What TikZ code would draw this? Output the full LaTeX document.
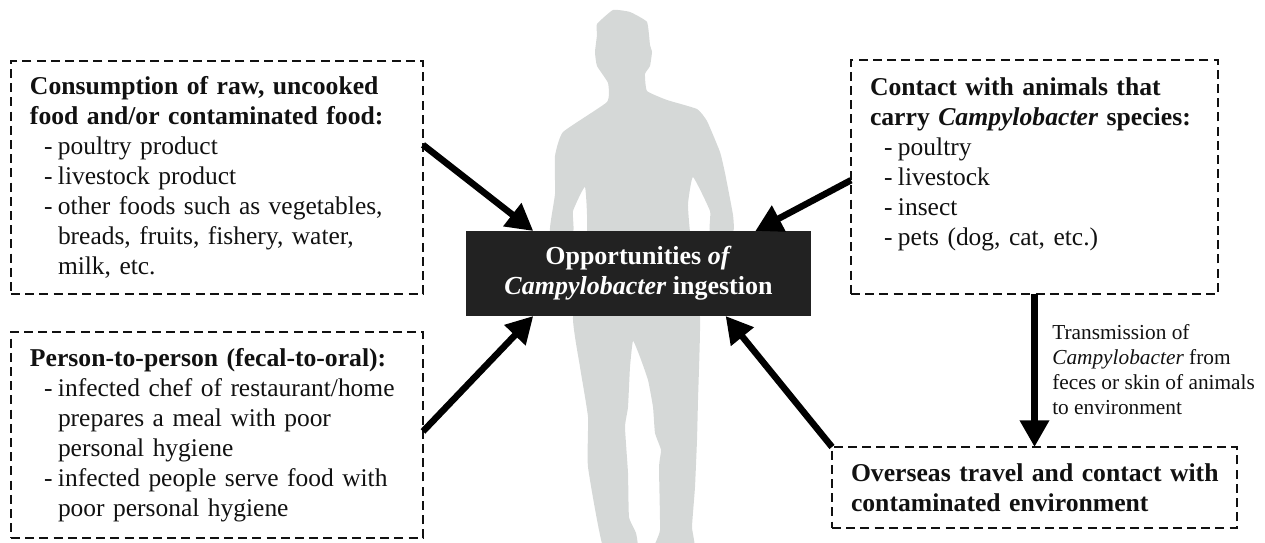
\documentclass[tikz,border=0pt]{standalone}
\usepackage{fontspec}
\setmainfont{Liberation Serif}
\usetikzlibrary{arrows.meta}
\definecolor{inkc}{HTML}{111111}
\definecolor{silc}{HTML}{D5D8D7}
\definecolor{boxc}{HTML}{222222}
\newcommand{\dashitem}[1]{\hspace*{10.5pt}\makebox[10.5pt][l]{-}#1}
\newcommand{\contline}[1]{\hspace*{21pt}#1}
\newcommand{\headline}[1]{\mbox{\fontsize{19.25}{22.5}\selectfont\bfseries #1}}
\tikzset{
  dashbox/.style={draw=inkc, line width=1.5pt, dash pattern=on 6.75pt off 3.9pt, fill=none,
    text=inkc, align=left, inner xsep=14.25pt, inner ysep=0pt, outer sep=0pt, anchor=center,
    font=\fontsize{19.1}{22.5}\selectfont},
  centerbox/.style={fill=boxc, text=white, align=center, inner sep=0pt, outer sep=0pt,
    minimum width=258.75pt, minimum height=63.75pt,
    font=\fontsize{19.5}{22.5}\selectfont\bfseries},
  notetext/.style={text=inkc, align=left, anchor=west, inner sep=0pt,
    font=\fontsize{16}{18.75}\selectfont},
  bigarrow/.style={draw=black, line width=4.9pt, -{Triangle[length=20pt,width=21pt]}},
  silhouette/.style={fill=silc, draw=none}
}
\begin{document}
\begin{tikzpicture}[x=0.75pt,y=-0.75pt]
\useasboundingbox (0,0) rectangle (1265,543);
\clip (0,0) rectangle (1265,543);
% silhouette
\fill[silhouette] plot[smooth cycle, tension=0.25] coordinates {
 (613,10) (630,12) (647,22) (650,45) (652,52) (650,66) (645,74) (647,91)
 (667,100) (697,109) (707,121) (720,152) (725,173) (733,215) (733,232)
 (710,232) (710,211) (693,177) (688,204) (690,232) (700,317)
 (698,400) (697,440) (695,487) (692,527) (694,550)
 (654,550) (660,530) (659,467) (661,450) (655,433) (653,407) (648,380) (640,357) (633,341)
 (630,367) (628,407) (625,427) (628,473) (629,517) (636,533) (637,550)
 (604,550) (588,467) (588,417) (580,367) (573,317)
 (587,232) (585,187) (573,211) (573,232) (550,232)
 (555,194) (555,156) (563,132) (607,102) (608,83) (597,66) (595,52) (597,35) (597,24)
};
% boxes
\node[dashbox, text width=280.5pt, minimum width=309pt, minimum height=174.75pt] (food) at (217,177.5) {%
  \headline{Consumption of raw, uncooked}\\
  \headline{food and/or contaminated food:}\\
  \dashitem{poultry product}\\
  \dashitem{livestock product}\\
  \dashitem{other foods such as vegetables,}\\
  \contline{breads, fruits, fishery, water,}\\
  \contline{milk, etc.}};
\node[dashbox, text width=280.5pt, minimum width=309pt, minimum height=154.5pt] (person) at (217,435) {%
  \headline{Person-to-person (fecal-to-oral):}\\
  \dashitem{infected chef of restaurant/home}\\
  \contline{prepares a meal with poor}\\
  \contline{personal hygiene}\\
  \dashitem{infected people serve food with}\\
  \contline{poor personal hygiene}};
\node[dashbox, text width=246.75pt, minimum width=275.25pt, minimum height=175.5pt] (animal) at (1034.5,177) {%
  \headline{Contact with animals that}\\
  \headline{carry \textit{Campylobacter} species:}\\
  \dashitem{poultry}\\
  \dashitem{livestock}\\
  \dashitem{insect}\\
  \dashitem{pets (dog, cat, etc.)}\\
  ~};
\node[dashbox, text width=275.25pt, minimum width=303.75pt, minimum height=60.75pt] (travel) at (1034.5,487.5) {%
  \headline{Overseas travel and contact with}\\
  \headline{contaminated environment}};
\node[centerbox] (opp) at (638.5,273.5) {Opportunities \textit{of}\\\textit{Campylobacter} ingestion};
\node[notetext] (note) at (1052,369.5) {Transmission of\\\textit{Campylobacter} from\\feces or skin of animals\\to environment};
% connectors
\draw[bigarrow] (food.9) -- (opp.158.8);
\draw[bigarrow] (animal.181.6) -- (opp.20.4);
\draw[bigarrow] (person.1.9) -- (opp.202.9);
\draw[bigarrow] (travel.north west) -- (opp.-26.2);
\draw[bigarrow] (animal.south) -- (travel.north);
\end{tikzpicture}
\end{document}
